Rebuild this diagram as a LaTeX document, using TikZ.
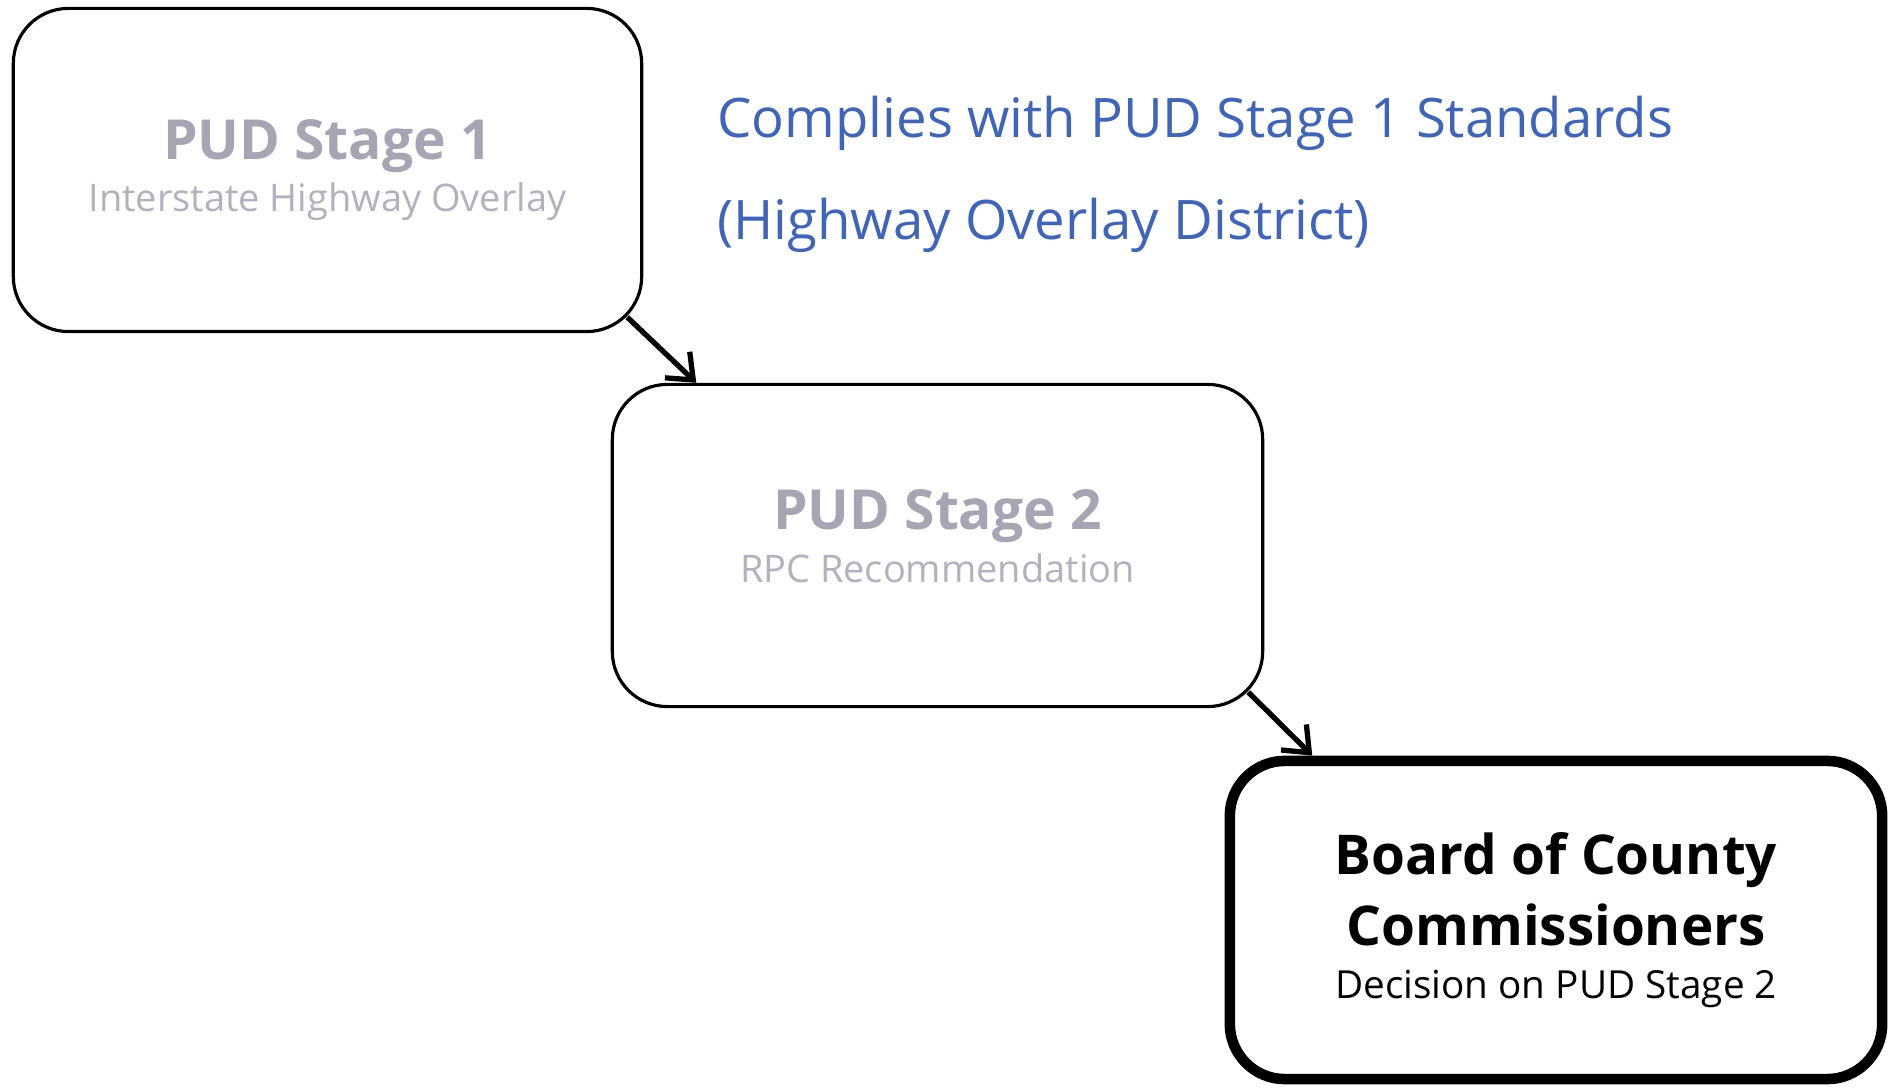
\documentclass[tikz,border=0pt]{standalone}
\usepackage{fontspec}
\setmainfont{Open Sans}
\usetikzlibrary{arrows.meta,calc}
\definecolor{titlegray}{RGB}{165,165,180}
\definecolor{subgray}{RGB}{178,178,190}
\definecolor{noteblue}{RGB}{62,100,190}

\begin{document}
\begin{tikzpicture}[x=0.01cm, y=0.01cm,
    stage/.style={draw, line width=0.9pt, rounded corners=0.55cm, minimum width=6.28cm,
      minimum height=3.23cm, align=center, font=\fontsize{10.8}{15}\selectfont},
    link/.style={line width=1.5pt, -{Straight Barb[length=2.2mm,width=3.6mm]}}]
    \useasboundingbox (0,0) rectangle (1894,1088);
    \node[stage] (s1) at (327.5,918)
      {{\color{titlegray}\bfseries\fontsize{15.7}{20}\selectfont PUD Stage 1}\\
       {\color{subgray}Interstate Highway Overlay}};
    \node[stage, minimum width=6.50cm, minimum height=3.22cm, text depth=5.4pt] (s2) at (937.5,542.5)
      {{\color{titlegray}\bfseries\fontsize{15.7}{20}\selectfont PUD Stage 2}\\
       {\color{subgray}RPC Recommendation}};
    \node[stage, line width=3pt, minimum width=6.52cm, minimum height=3.18cm,
      font=\fontsize{11}{15}\selectfont] (bocc) at (1556,168)
      {{\bfseries\fontsize{15.6}{20}\selectfont Board of County}\\[3.5pt]
       {\bfseries\fontsize{15.6}{20}\selectfont Commissioners}\\
       Decision on PUD Stage 2};
    \node[anchor=west, align=left, text=noteblue, font=\fontsize{15.5}{29}\selectfont] (note) at (705,914)
      {Complies with PUD Stage 1 Standards\\(Highway Overlay District)};
    \draw[link] ($(s1.south east)+(-16,16)$) -- (s2.146);
    \draw[link] ($(s2.south east)+(-16,16)$) -- (bocc.146);
\end{tikzpicture}
\end{document}
